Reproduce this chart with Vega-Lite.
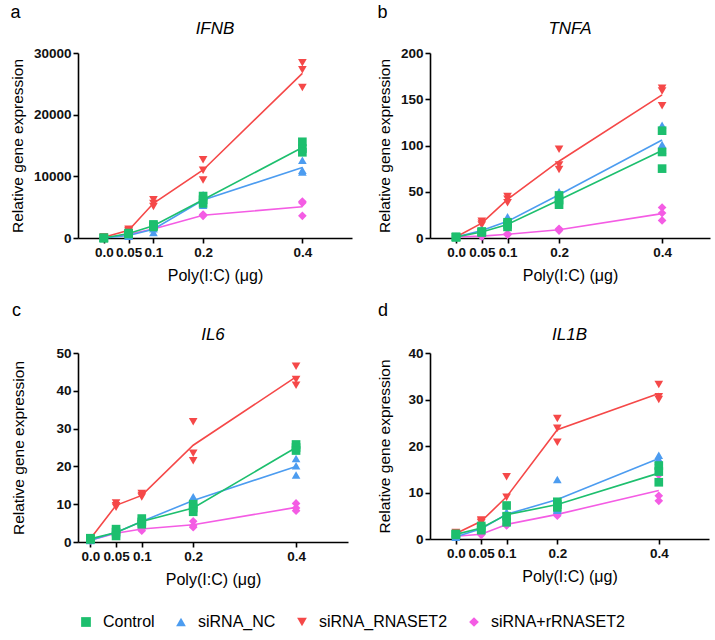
{
  "$schema": "https://vega.github.io/schema/vega-lite/v6.json",
  "padding": {"left": 10, "top": 4, "right": 2, "bottom": 2},
  "config": {
    "font": "Liberation Sans",
    "view": {"stroke": null},
    "axis": {"grid": false, "domainColor": "#000", "domainWidth": 1.6, "tickColor": "#000", "tickWidth": 1.6, "tickSize": 5, "labelColor": "#111", "labelFontWeight": "bold", "labelFontSize": 13.5, "labelFont": "Liberation Sans", "labelOverlap": false, "titleFontSize": 15.5, "titleFontWeight": "normal", "titleColor": "#000", "titleFont": "Liberation Sans"},
    "axisX": {"titleFontSize": 16},
    "legend": {"orient": "bottom", "direction": "horizontal", "labelFontSize": 16, "labelColor": "#000", "symbolSize": 95, "columnPadding": 18, "labelOffset": 9, "symbolStrokeWidth": 0, "labelFont": "Liberation Sans", "offset": 26}
  },
  "datasets": {
    "pts": [
      {"gene":"IFNB","group":"siRNA+rRNASET2","dose":0,"value":1},{"gene":"IFNB","group":"siRNA+rRNASET2","dose":0,"value":1},{"gene":"IFNB","group":"siRNA+rRNASET2","dose":0,"value":1},
      {"gene":"IFNB","group":"siRNA+rRNASET2","dose":0.05,"value":700},{"gene":"IFNB","group":"siRNA+rRNASET2","dose":0.05,"value":600},{"gene":"IFNB","group":"siRNA+rRNASET2","dose":0.05,"value":500},
      {"gene":"IFNB","group":"siRNA+rRNASET2","dose":0.1,"value":1600},{"gene":"IFNB","group":"siRNA+rRNASET2","dose":0.1,"value":1500},{"gene":"IFNB","group":"siRNA+rRNASET2","dose":0.1,"value":1300},
      {"gene":"IFNB","group":"siRNA+rRNASET2","dose":0.2,"value":3800},{"gene":"IFNB","group":"siRNA+rRNASET2","dose":0.2,"value":3700},{"gene":"IFNB","group":"siRNA+rRNASET2","dose":0.2,"value":3600},
      {"gene":"IFNB","group":"siRNA+rRNASET2","dose":0.4,"value":5900},{"gene":"IFNB","group":"siRNA+rRNASET2","dose":0.4,"value":5700},{"gene":"IFNB","group":"siRNA+rRNASET2","dose":0.4,"value":3600},
      {"gene":"IFNB","group":"siRNA_RNASET2","dose":0,"value":150},{"gene":"IFNB","group":"siRNA_RNASET2","dose":0,"value":100},{"gene":"IFNB","group":"siRNA_RNASET2","dose":0,"value":80},
      {"gene":"IFNB","group":"siRNA_RNASET2","dose":0.05,"value":1400},{"gene":"IFNB","group":"siRNA_RNASET2","dose":0.05,"value":1200},{"gene":"IFNB","group":"siRNA_RNASET2","dose":0.05,"value":1100},
      {"gene":"IFNB","group":"siRNA_RNASET2","dose":0.1,"value":6200},{"gene":"IFNB","group":"siRNA_RNASET2","dose":0.1,"value":5600},{"gene":"IFNB","group":"siRNA_RNASET2","dose":0.1,"value":5100},
      {"gene":"IFNB","group":"siRNA_RNASET2","dose":0.2,"value":12700},{"gene":"IFNB","group":"siRNA_RNASET2","dose":0.2,"value":11000},{"gene":"IFNB","group":"siRNA_RNASET2","dose":0.2,"value":9400},
      {"gene":"IFNB","group":"siRNA_RNASET2","dose":0.4,"value":28400},{"gene":"IFNB","group":"siRNA_RNASET2","dose":0.4,"value":27300},{"gene":"IFNB","group":"siRNA_RNASET2","dose":0.4,"value":24400},
      {"gene":"IFNB","group":"siRNA_NC","dose":0,"value":1},{"gene":"IFNB","group":"siRNA_NC","dose":0,"value":1},{"gene":"IFNB","group":"siRNA_NC","dose":0,"value":1},
      {"gene":"IFNB","group":"siRNA_NC","dose":0.05,"value":500},{"gene":"IFNB","group":"siRNA_NC","dose":0.05,"value":400},{"gene":"IFNB","group":"siRNA_NC","dose":0.05,"value":300},
      {"gene":"IFNB","group":"siRNA_NC","dose":0.1,"value":1900},{"gene":"IFNB","group":"siRNA_NC","dose":0.1,"value":1500},{"gene":"IFNB","group":"siRNA_NC","dose":0.1,"value":900},
      {"gene":"IFNB","group":"siRNA_NC","dose":0.2,"value":7000},{"gene":"IFNB","group":"siRNA_NC","dose":0.2,"value":6200},{"gene":"IFNB","group":"siRNA_NC","dose":0.2,"value":5300},
      {"gene":"IFNB","group":"siRNA_NC","dose":0.4,"value":12600},{"gene":"IFNB","group":"siRNA_NC","dose":0.4,"value":11000},{"gene":"IFNB","group":"siRNA_NC","dose":0.4,"value":10700},
      {"gene":"IFNB","group":"Control","dose":0,"value":1},{"gene":"IFNB","group":"Control","dose":0,"value":1},{"gene":"IFNB","group":"Control","dose":0,"value":1},
      {"gene":"IFNB","group":"Control","dose":0.05,"value":800},{"gene":"IFNB","group":"Control","dose":0.05,"value":700},{"gene":"IFNB","group":"Control","dose":0.05,"value":650},
      {"gene":"IFNB","group":"Control","dose":0.1,"value":2200},{"gene":"IFNB","group":"Control","dose":0.1,"value":2000},{"gene":"IFNB","group":"Control","dose":0.1,"value":1800},
      {"gene":"IFNB","group":"Control","dose":0.2,"value":6800},{"gene":"IFNB","group":"Control","dose":0.2,"value":6200},{"gene":"IFNB","group":"Control","dose":0.2,"value":5600},
      {"gene":"IFNB","group":"Control","dose":0.4,"value":15600},{"gene":"IFNB","group":"Control","dose":0.4,"value":14500},{"gene":"IFNB","group":"Control","dose":0.4,"value":13900},

      {"gene":"TNFA","group":"siRNA+rRNASET2","dose":0,"value":1},{"gene":"TNFA","group":"siRNA+rRNASET2","dose":0,"value":1},{"gene":"TNFA","group":"siRNA+rRNASET2","dose":0,"value":1},
      {"gene":"TNFA","group":"siRNA+rRNASET2","dose":0.05,"value":2.5},{"gene":"TNFA","group":"siRNA+rRNASET2","dose":0.05,"value":2},{"gene":"TNFA","group":"siRNA+rRNASET2","dose":0.05,"value":1.5},
      {"gene":"TNFA","group":"siRNA+rRNASET2","dose":0.1,"value":4.5},{"gene":"TNFA","group":"siRNA+rRNASET2","dose":0.1,"value":4},{"gene":"TNFA","group":"siRNA+rRNASET2","dose":0.1,"value":3.5},
      {"gene":"TNFA","group":"siRNA+rRNASET2","dose":0.2,"value":10},{"gene":"TNFA","group":"siRNA+rRNASET2","dose":0.2,"value":9},{"gene":"TNFA","group":"siRNA+rRNASET2","dose":0.2,"value":8},
      {"gene":"TNFA","group":"siRNA+rRNASET2","dose":0.4,"value":33},{"gene":"TNFA","group":"siRNA+rRNASET2","dose":0.4,"value":27},{"gene":"TNFA","group":"siRNA+rRNASET2","dose":0.4,"value":19},
      {"gene":"TNFA","group":"siRNA_RNASET2","dose":0,"value":1.2},{"gene":"TNFA","group":"siRNA_RNASET2","dose":0,"value":1},{"gene":"TNFA","group":"siRNA_RNASET2","dose":0,"value":0.9},
      {"gene":"TNFA","group":"siRNA_RNASET2","dose":0.05,"value":18},{"gene":"TNFA","group":"siRNA_RNASET2","dose":0.05,"value":16},{"gene":"TNFA","group":"siRNA_RNASET2","dose":0.05,"value":14},
      {"gene":"TNFA","group":"siRNA_RNASET2","dose":0.1,"value":45},{"gene":"TNFA","group":"siRNA_RNASET2","dose":0.1,"value":42},{"gene":"TNFA","group":"siRNA_RNASET2","dose":0.1,"value":38},
      {"gene":"TNFA","group":"siRNA_RNASET2","dose":0.2,"value":96},{"gene":"TNFA","group":"siRNA_RNASET2","dose":0.2,"value":79},{"gene":"TNFA","group":"siRNA_RNASET2","dose":0.2,"value":74},
      {"gene":"TNFA","group":"siRNA_RNASET2","dose":0.4,"value":162},{"gene":"TNFA","group":"siRNA_RNASET2","dose":0.4,"value":159},{"gene":"TNFA","group":"siRNA_RNASET2","dose":0.4,"value":143},
      {"gene":"TNFA","group":"siRNA_NC","dose":0,"value":1},{"gene":"TNFA","group":"siRNA_NC","dose":0,"value":1},{"gene":"TNFA","group":"siRNA_NC","dose":0,"value":1},
      {"gene":"TNFA","group":"siRNA_NC","dose":0.05,"value":9},{"gene":"TNFA","group":"siRNA_NC","dose":0.05,"value":8},{"gene":"TNFA","group":"siRNA_NC","dose":0.05,"value":7},
      {"gene":"TNFA","group":"siRNA_NC","dose":0.1,"value":23},{"gene":"TNFA","group":"siRNA_NC","dose":0.1,"value":17},{"gene":"TNFA","group":"siRNA_NC","dose":0.1,"value":14},
      {"gene":"TNFA","group":"siRNA_NC","dose":0.2,"value":50},{"gene":"TNFA","group":"siRNA_NC","dose":0.2,"value":46},{"gene":"TNFA","group":"siRNA_NC","dose":0.2,"value":44},
      {"gene":"TNFA","group":"siRNA_NC","dose":0.4,"value":122},{"gene":"TNFA","group":"siRNA_NC","dose":0.4,"value":101},{"gene":"TNFA","group":"siRNA_NC","dose":0.4,"value":95},
      {"gene":"TNFA","group":"Control","dose":0,"value":1},{"gene":"TNFA","group":"Control","dose":0,"value":1},{"gene":"TNFA","group":"Control","dose":0,"value":1},
      {"gene":"TNFA","group":"Control","dose":0.05,"value":7},{"gene":"TNFA","group":"Control","dose":0.05,"value":6.5},{"gene":"TNFA","group":"Control","dose":0.05,"value":6},
      {"gene":"TNFA","group":"Control","dose":0.1,"value":17},{"gene":"TNFA","group":"Control","dose":0.1,"value":15},{"gene":"TNFA","group":"Control","dose":0.1,"value":12},
      {"gene":"TNFA","group":"Control","dose":0.2,"value":46},{"gene":"TNFA","group":"Control","dose":0.2,"value":41},{"gene":"TNFA","group":"Control","dose":0.2,"value":36},
      {"gene":"TNFA","group":"Control","dose":0.4,"value":116},{"gene":"TNFA","group":"Control","dose":0.4,"value":93},{"gene":"TNFA","group":"Control","dose":0.4,"value":75},

      {"gene":"IL6","group":"siRNA+rRNASET2","dose":0,"value":0.6},{"gene":"IL6","group":"siRNA+rRNASET2","dose":0,"value":0.5},{"gene":"IL6","group":"siRNA+rRNASET2","dose":0,"value":0.4},
      {"gene":"IL6","group":"siRNA+rRNASET2","dose":0.05,"value":2.5},{"gene":"IL6","group":"siRNA+rRNASET2","dose":0.05,"value":2.3},{"gene":"IL6","group":"siRNA+rRNASET2","dose":0.05,"value":2.1},
      {"gene":"IL6","group":"siRNA+rRNASET2","dose":0.1,"value":3.8},{"gene":"IL6","group":"siRNA+rRNASET2","dose":0.1,"value":3.5},{"gene":"IL6","group":"siRNA+rRNASET2","dose":0.1,"value":3.0},
      {"gene":"IL6","group":"siRNA+rRNASET2","dose":0.2,"value":5.5},{"gene":"IL6","group":"siRNA+rRNASET2","dose":0.2,"value":4.3},{"gene":"IL6","group":"siRNA+rRNASET2","dose":0.2,"value":3.9},
      {"gene":"IL6","group":"siRNA+rRNASET2","dose":0.4,"value":10.2},{"gene":"IL6","group":"siRNA+rRNASET2","dose":0.4,"value":9.0},{"gene":"IL6","group":"siRNA+rRNASET2","dose":0.4,"value":8.3},
      {"gene":"IL6","group":"siRNA_RNASET2","dose":0,"value":1.0},{"gene":"IL6","group":"siRNA_RNASET2","dose":0,"value":0.8},{"gene":"IL6","group":"siRNA_RNASET2","dose":0,"value":0.7},
      {"gene":"IL6","group":"siRNA_RNASET2","dose":0.05,"value":10.3},{"gene":"IL6","group":"siRNA_RNASET2","dose":0.05,"value":9.6},{"gene":"IL6","group":"siRNA_RNASET2","dose":0.05,"value":9.2},
      {"gene":"IL6","group":"siRNA_RNASET2","dose":0.1,"value":12.8},{"gene":"IL6","group":"siRNA_RNASET2","dose":0.1,"value":12.3},{"gene":"IL6","group":"siRNA_RNASET2","dose":0.1,"value":11.9},
      {"gene":"IL6","group":"siRNA_RNASET2","dose":0.2,"value":31.8},{"gene":"IL6","group":"siRNA_RNASET2","dose":0.2,"value":23.5},{"gene":"IL6","group":"siRNA_RNASET2","dose":0.2,"value":21.5},
      {"gene":"IL6","group":"siRNA_RNASET2","dose":0.4,"value":46.5},{"gene":"IL6","group":"siRNA_RNASET2","dose":0.4,"value":43.0},{"gene":"IL6","group":"siRNA_RNASET2","dose":0.4,"value":41.5},
      {"gene":"IL6","group":"siRNA_NC","dose":0,"value":0.6},{"gene":"IL6","group":"siRNA_NC","dose":0,"value":0.5},{"gene":"IL6","group":"siRNA_NC","dose":0,"value":0.4},
      {"gene":"IL6","group":"siRNA_NC","dose":0.05,"value":2.8},{"gene":"IL6","group":"siRNA_NC","dose":0.05,"value":2.5},{"gene":"IL6","group":"siRNA_NC","dose":0.05,"value":2.2},
      {"gene":"IL6","group":"siRNA_NC","dose":0.1,"value":5.8},{"gene":"IL6","group":"siRNA_NC","dose":0.1,"value":5.4},{"gene":"IL6","group":"siRNA_NC","dose":0.1,"value":5.0},
      {"gene":"IL6","group":"siRNA_NC","dose":0.2,"value":12},{"gene":"IL6","group":"siRNA_NC","dose":0.2,"value":11},{"gene":"IL6","group":"siRNA_NC","dose":0.2,"value":10},
      {"gene":"IL6","group":"siRNA_NC","dose":0.4,"value":22.1},{"gene":"IL6","group":"siRNA_NC","dose":0.4,"value":20.2},{"gene":"IL6","group":"siRNA_NC","dose":0.4,"value":17.7},
      {"gene":"IL6","group":"Control","dose":0,"value":1.0},{"gene":"IL6","group":"Control","dose":0,"value":0.8},{"gene":"IL6","group":"Control","dose":0,"value":0.7},
      {"gene":"IL6","group":"Control","dose":0.05,"value":3.4},{"gene":"IL6","group":"Control","dose":0.05,"value":2.6},{"gene":"IL6","group":"Control","dose":0.05,"value":1.6},
      {"gene":"IL6","group":"Control","dose":0.1,"value":6.2},{"gene":"IL6","group":"Control","dose":0.1,"value":5.3},{"gene":"IL6","group":"Control","dose":0.1,"value":4.7},
      {"gene":"IL6","group":"Control","dose":0.2,"value":10},{"gene":"IL6","group":"Control","dose":0.2,"value":9},{"gene":"IL6","group":"Control","dose":0.2,"value":8},
      {"gene":"IL6","group":"Control","dose":0.4,"value":25.8},{"gene":"IL6","group":"Control","dose":0.4,"value":25.0},{"gene":"IL6","group":"Control","dose":0.4,"value":24.2},

      {"gene":"IL1B","group":"siRNA+rRNASET2","dose":0,"value":0.7},{"gene":"IL1B","group":"siRNA+rRNASET2","dose":0,"value":0.6},{"gene":"IL1B","group":"siRNA+rRNASET2","dose":0,"value":0.5},
      {"gene":"IL1B","group":"siRNA+rRNASET2","dose":0.05,"value":1.2},{"gene":"IL1B","group":"siRNA+rRNASET2","dose":0.05,"value":1.0},{"gene":"IL1B","group":"siRNA+rRNASET2","dose":0.05,"value":0.9},
      {"gene":"IL1B","group":"siRNA+rRNASET2","dose":0.1,"value":3.4},{"gene":"IL1B","group":"siRNA+rRNASET2","dose":0.1,"value":3.1},{"gene":"IL1B","group":"siRNA+rRNASET2","dose":0.1,"value":2.9},
      {"gene":"IL1B","group":"siRNA+rRNASET2","dose":0.2,"value":5.6},{"gene":"IL1B","group":"siRNA+rRNASET2","dose":0.2,"value":5.3},{"gene":"IL1B","group":"siRNA+rRNASET2","dose":0.2,"value":5.0},
      {"gene":"IL1B","group":"siRNA+rRNASET2","dose":0.4,"value":13.8},{"gene":"IL1B","group":"siRNA+rRNASET2","dose":0.4,"value":9.3},{"gene":"IL1B","group":"siRNA+rRNASET2","dose":0.4,"value":8.2},
      {"gene":"IL1B","group":"siRNA_RNASET2","dose":0,"value":1.4},{"gene":"IL1B","group":"siRNA_RNASET2","dose":0,"value":1.2},{"gene":"IL1B","group":"siRNA_RNASET2","dose":0,"value":1.0},
      {"gene":"IL1B","group":"siRNA_RNASET2","dose":0.05,"value":4.1},{"gene":"IL1B","group":"siRNA_RNASET2","dose":0.05,"value":3.8},{"gene":"IL1B","group":"siRNA_RNASET2","dose":0.05,"value":3.5},
      {"gene":"IL1B","group":"siRNA_RNASET2","dose":0.1,"value":13.4},{"gene":"IL1B","group":"siRNA_RNASET2","dose":0.1,"value":9.0},{"gene":"IL1B","group":"siRNA_RNASET2","dose":0.1,"value":4.8},
      {"gene":"IL1B","group":"siRNA_RNASET2","dose":0.2,"value":25.9},{"gene":"IL1B","group":"siRNA_RNASET2","dose":0.2,"value":23.8},{"gene":"IL1B","group":"siRNA_RNASET2","dose":0.2,"value":20.8},
      {"gene":"IL1B","group":"siRNA_RNASET2","dose":0.4,"value":33.2},{"gene":"IL1B","group":"siRNA_RNASET2","dose":0.4,"value":30.6},{"gene":"IL1B","group":"siRNA_RNASET2","dose":0.4,"value":30.0},
      {"gene":"IL1B","group":"siRNA_NC","dose":0,"value":0.6},{"gene":"IL1B","group":"siRNA_NC","dose":0,"value":0.5},{"gene":"IL1B","group":"siRNA_NC","dose":0,"value":0.4},
      {"gene":"IL1B","group":"siRNA_NC","dose":0.05,"value":2.4},{"gene":"IL1B","group":"siRNA_NC","dose":0.05,"value":2.2},{"gene":"IL1B","group":"siRNA_NC","dose":0.05,"value":2.0},
      {"gene":"IL1B","group":"siRNA_NC","dose":0.1,"value":5.8},{"gene":"IL1B","group":"siRNA_NC","dose":0.1,"value":5.2},{"gene":"IL1B","group":"siRNA_NC","dose":0.1,"value":4.9},
      {"gene":"IL1B","group":"siRNA_NC","dose":0.2,"value":12.8},{"gene":"IL1B","group":"siRNA_NC","dose":0.2,"value":6.5},{"gene":"IL1B","group":"siRNA_NC","dose":0.2,"value":6.2},
      {"gene":"IL1B","group":"siRNA_NC","dose":0.4,"value":18.0},{"gene":"IL1B","group":"siRNA_NC","dose":0.4,"value":17.2},{"gene":"IL1B","group":"siRNA_NC","dose":0.4,"value":16.8},
      {"gene":"IL1B","group":"Control","dose":0,"value":1.1},{"gene":"IL1B","group":"Control","dose":0,"value":1.0},{"gene":"IL1B","group":"Control","dose":0,"value":0.9},
      {"gene":"IL1B","group":"Control","dose":0.05,"value":2.8},{"gene":"IL1B","group":"Control","dose":0.05,"value":2.4},{"gene":"IL1B","group":"Control","dose":0.05,"value":1.9},
      {"gene":"IL1B","group":"Control","dose":0.1,"value":7.2},{"gene":"IL1B","group":"Control","dose":0.1,"value":4.9},{"gene":"IL1B","group":"Control","dose":0.1,"value":3.6},
      {"gene":"IL1B","group":"Control","dose":0.2,"value":8.0},{"gene":"IL1B","group":"Control","dose":0.2,"value":7.4},{"gene":"IL1B","group":"Control","dose":0.2,"value":6.8},
      {"gene":"IL1B","group":"Control","dose":0.4,"value":15.8},{"gene":"IL1B","group":"Control","dose":0.4,"value":14.5},{"gene":"IL1B","group":"Control","dose":0.4,"value":12.2}
    ]
  },
  "data": {"name": "pts"},
  "columns": 2,
  "spacing": {"row": 18, "column": 25},
  "concat": [
      {"title": {"text": "a", "anchor": "start", "frame": "bounds", "fontSize": 18, "fontWeight": "normal", "offset": -2},
       "vconcat": [{
        "width": 274, "height": 185,
        "title": {"text": "IFNB", "fontStyle": "italic", "fontSize": 17, "fontWeight": "normal", "offset": 8},
        "transform": [{"filter": "datum.gene === 'IFNB'"}],
        "encoding": {
          "x": {"field": "dose", "type": "quantitative", "scale": {"domain": [-0.052, 0.5], "nice": false, "zero": false}, "axis": {"values": [0, 0.05, 0.1, 0.2, 0.4], "labelExpr": "datum.value === 0 ? '0.0' : toString(datum.value)", "labelOverlap": false, "title": "Poly(I:C) (μg)", "titlePadding": 9}},
          "color": {"field": "group", "type": "nominal", "scale": {"domain": ["Control", "siRNA_NC", "siRNA_RNASET2", "siRNA+rRNASET2"], "range": ["#1DBF6E", "#4C9CF0", "#F54848", "#F45CE4"]}, "legend": {"title": null}}
        },
        "layer": [
          {"mark": {"type": "line", "strokeWidth": 1.6}, "encoding": {"y": {"aggregate": "mean", "field": "value", "type": "quantitative", "scale": {"domain": [0, 30000], "nice": false}, "axis": {"values": [0, 10000, 20000, 30000], "format": "d", "labelOverlap": false, "title": "Relative gene expression", "titlePadding": 8}}}},
          {"mark": {"type": "point", "filled": true, "opacity": 1, "size": 75}, "encoding": {"y": {"field": "value", "type": "quantitative", "axis": {"values": [0, 10000, 20000, 30000], "format": "d", "labelOverlap": false, "title": "Relative gene expression", "titlePadding": 8}}, "shape": {"field": "group", "type": "nominal", "scale": {"domain": ["Control", "siRNA_NC", "siRNA_RNASET2", "siRNA+rRNASET2"], "range": ["square", "triangle-up", "triangle-down", "diamond"]}, "legend": {"title": null}}}}
        ]
      }]},
      {"title": {"text": "b", "anchor": "start", "frame": "bounds", "fontSize": 18, "fontWeight": "normal", "offset": -2},
       "vconcat": [{
        "width": 280, "height": 185,
        "title": {"text": "TNFA", "fontStyle": "italic", "fontSize": 17, "fontWeight": "normal", "offset": 8},
        "transform": [{"filter": "datum.gene === 'TNFA'"}],
        "encoding": {
          "x": {"field": "dose", "type": "quantitative", "scale": {"domain": [-0.0505, 0.493], "nice": false, "zero": false}, "axis": {"values": [0, 0.05, 0.1, 0.2, 0.4], "labelExpr": "datum.value === 0 ? '0.0' : toString(datum.value)", "labelOverlap": false, "title": "Poly(I:C) (μg)", "titlePadding": 9}},
          "color": {"field": "group", "type": "nominal", "scale": {"domain": ["Control", "siRNA_NC", "siRNA_RNASET2", "siRNA+rRNASET2"], "range": ["#1DBF6E", "#4C9CF0", "#F54848", "#F45CE4"]}, "legend": {"title": null}}
        },
        "layer": [
          {"mark": {"type": "line", "strokeWidth": 1.6}, "encoding": {"y": {"aggregate": "mean", "field": "value", "type": "quantitative", "scale": {"domain": [0, 200], "nice": false}, "axis": {"values": [0, 50, 100, 150, 200], "format": "d", "labelOverlap": false, "title": "Relative gene expression", "titlePadding": 8}}}},
          {"mark": {"type": "point", "filled": true, "opacity": 1, "size": 75}, "encoding": {"y": {"field": "value", "type": "quantitative", "axis": {"values": [0, 50, 100, 150, 200], "format": "d", "labelOverlap": false, "title": "Relative gene expression", "titlePadding": 8}}, "shape": {"field": "group", "type": "nominal", "scale": {"domain": ["Control", "siRNA_NC", "siRNA_RNASET2", "siRNA+rRNASET2"], "range": ["square", "triangle-up", "triangle-down", "diamond"]}, "legend": {"title": null}}}}
        ]
      }]},
      {"title": {"text": "c", "anchor": "start", "frame": "bounds", "fontSize": 18, "fontWeight": "normal", "offset": 6},
       "vconcat": [{
        "width": 270, "height": 189,
        "title": {"text": "IL6", "fontStyle": "italic", "fontSize": 17, "fontWeight": "normal", "offset": 2},
        "transform": [{"filter": "datum.gene === 'IL6'"}],
        "encoding": {
          "x": {"field": "dose", "type": "quantitative", "scale": {"domain": [-0.024, 0.501], "nice": false, "zero": false}, "axis": {"values": [0, 0.05, 0.1, 0.2, 0.4], "labelExpr": "datum.value === 0 ? '0.0' : toString(datum.value)", "labelOverlap": false, "title": "Poly(I:C) (μg)", "titlePadding": 9}},
          "color": {"field": "group", "type": "nominal", "scale": {"domain": ["Control", "siRNA_NC", "siRNA_RNASET2", "siRNA+rRNASET2"], "range": ["#1DBF6E", "#4C9CF0", "#F54848", "#F45CE4"]}, "legend": {"title": null}}
        },
        "layer": [
          {"mark": {"type": "line", "strokeWidth": 1.6}, "encoding": {"y": {"aggregate": "mean", "field": "value", "type": "quantitative", "scale": {"domain": [0, 50], "nice": false}, "axis": {"values": [0, 10, 20, 30, 40, 50], "format": "d", "labelOverlap": false, "title": "Relative gene expression", "titlePadding": 29}}}},
          {"mark": {"type": "point", "filled": true, "opacity": 1, "size": 75}, "encoding": {"y": {"field": "value", "type": "quantitative", "axis": {"values": [0, 10, 20, 30, 40, 50], "format": "d", "labelOverlap": false, "title": "Relative gene expression", "titlePadding": 29}}, "shape": {"field": "group", "type": "nominal", "scale": {"domain": ["Control", "siRNA_NC", "siRNA_RNASET2", "siRNA+rRNASET2"], "range": ["square", "triangle-up", "triangle-down", "diamond"]}, "legend": {"title": null}}}}
        ]
      }]},
      {"title": {"text": "d", "anchor": "start", "frame": "bounds", "fontSize": 18, "fontWeight": "normal", "offset": 6},
       "vconcat": [{
        "width": 279, "height": 186,
        "title": {"text": "IL1B", "fontStyle": "italic", "fontSize": 17, "fontWeight": "normal", "offset": 2},
        "transform": [{"filter": "datum.gene === 'IL1B'"}],
        "encoding": {
          "x": {"field": "dose", "type": "quantitative", "scale": {"domain": [-0.051, 0.499], "nice": false, "zero": false}, "axis": {"values": [0, 0.05, 0.1, 0.2, 0.4], "labelExpr": "datum.value === 0 ? '0.0' : toString(datum.value)", "labelOverlap": false, "title": "Poly(I:C) (μg)", "titlePadding": 9}},
          "color": {"field": "group", "type": "nominal", "scale": {"domain": ["Control", "siRNA_NC", "siRNA_RNASET2", "siRNA+rRNASET2"], "range": ["#1DBF6E", "#4C9CF0", "#F54848", "#F45CE4"]}, "legend": {"title": null}}
        },
        "layer": [
          {"mark": {"type": "line", "strokeWidth": 1.6}, "encoding": {"y": {"aggregate": "mean", "field": "value", "type": "quantitative", "scale": {"domain": [0, 40], "nice": false}, "axis": {"values": [0, 10, 20, 30, 40], "format": "d", "labelOverlap": false, "title": "Relative gene expression", "titlePadding": 15}}}},
          {"mark": {"type": "point", "filled": true, "opacity": 1, "size": 75}, "encoding": {"y": {"field": "value", "type": "quantitative", "axis": {"values": [0, 10, 20, 30, 40], "format": "d", "labelOverlap": false, "title": "Relative gene expression", "titlePadding": 15}}, "shape": {"field": "group", "type": "nominal", "scale": {"domain": ["Control", "siRNA_NC", "siRNA_RNASET2", "siRNA+rRNASET2"], "range": ["square", "triangle-up", "triangle-down", "diamond"]}, "legend": {"title": null}}}}
        ]
      }]}
  ]
}
